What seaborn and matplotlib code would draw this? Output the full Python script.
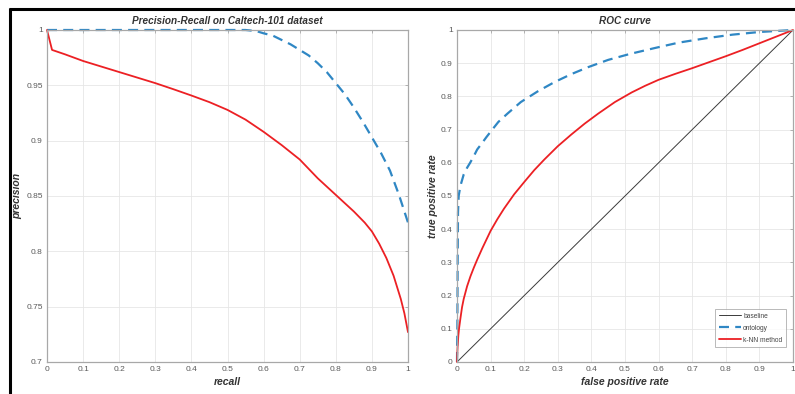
import numpy as np
import pandas as pd
import matplotlib
matplotlib.use("Agg")
import matplotlib.pyplot as plt
from matplotlib.lines import Line2D
import seaborn as sns

# ---- data ----
pr_recall_ont = [0.0, 0.1, 0.2, 0.3, 0.4, 0.5, 0.55, 0.58, 0.6, 0.625, 0.65, 0.675, 0.7,
                 0.725, 0.75, 0.775, 0.8, 0.825, 0.85, 0.875, 0.9, 0.925, 0.95, 0.975, 1.0]
pr_prec_ont = [1.0, 1.0, 1.0, 1.0, 1.0, 1.0, 1.0, 0.999, 0.997, 0.995, 0.991, 0.987, 0.982,
               0.977, 0.970, 0.962, 0.952, 0.942, 0.930, 0.917, 0.903, 0.889, 0.873, 0.851, 0.826]

pr_recall_knn = [0.0, 0.014, 0.05, 0.1, 0.15, 0.2, 0.25, 0.3, 0.35, 0.4, 0.45, 0.5, 0.55,
                 0.6, 0.65, 0.7, 0.75, 0.8, 0.85, 0.88, 0.9, 0.92, 0.94, 0.96, 0.98, 0.99, 1.0]
pr_prec_knn = [1.0, 0.982, 0.978, 0.972, 0.967, 0.962, 0.957, 0.952, 0.9465, 0.9408, 0.9348,
               0.9278, 0.919, 0.908, 0.896, 0.883, 0.866, 0.851, 0.836, 0.826, 0.818, 0.807,
               0.794, 0.778, 0.757, 0.744, 0.727]

roc_fpr_base = [0.0, 1.0]
roc_tpr_base = [0.0, 1.0]

roc_fpr_ont = [0.0, 0.001, 0.002, 0.003, 0.005, 0.01, 0.02, 0.03, 0.039, 0.05, 0.06, 0.075,
               0.088, 0.105, 0.123, 0.15, 0.19, 0.24, 0.29, 0.34, 0.39, 0.45, 0.515, 0.59,
               0.66, 0.74, 0.82, 0.9, 1.0]
roc_tpr_ont = [0.0, 0.1, 0.3, 0.45, 0.5, 0.53, 0.565, 0.585, 0.6, 0.62, 0.64, 0.66,
               0.678, 0.70, 0.723, 0.748, 0.783, 0.815, 0.843, 0.867, 0.888, 0.91, 0.928, 0.946,
               0.962, 0.975, 0.986, 0.994, 1.0]

roc_fpr_knn = [0.0, 0.001, 0.002, 0.004, 0.006, 0.01, 0.015, 0.02, 0.03, 0.04, 0.05, 0.06,
               0.075, 0.1, 0.12, 0.14, 0.17, 0.2, 0.23, 0.26, 0.3, 0.34, 0.38, 0.42, 0.47,
               0.52, 0.56, 0.6, 0.65, 0.7, 0.75, 0.8, 0.85, 0.9, 0.95, 1.0]
roc_tpr_knn = [0.0, 0.03, 0.05, 0.08, 0.1, 0.13, 0.165, 0.19, 0.228, 0.258, 0.284, 0.308,
               0.342, 0.395, 0.43, 0.462, 0.505, 0.542, 0.578, 0.61, 0.65, 0.685, 0.718, 0.748,
               0.783, 0.812, 0.832, 0.85, 0.868, 0.885, 0.903, 0.921, 0.94, 0.96, 0.98, 1.0]

pr_xticks = [0, 0.1, 0.2, 0.3, 0.4, 0.5, 0.6, 0.7, 0.8, 0.9, 1]
pr_xticklabels = ["0", "0.1", "0.2", "0.3", "0.4", "0.5", "0.6", "0.7", "0.8", "0.9", "1"]
pr_yticks = [0.7, 0.75, 0.8, 0.85, 0.9, 0.95, 1.0]
pr_yticklabels = ["0.7", "0.75", "0.8", "0.85", "0.9", "0.95", "1"]
roc_ticks = [0, 0.1, 0.2, 0.3, 0.4, 0.5, 0.6, 0.7, 0.8, 0.9, 1]
roc_ticklabels = ["0", "0.1", "0.2", "0.3", "0.4", "0.5", "0.6", "0.7", "0.8", "0.9", "1"]

# ---- styling ----
sns.set_style("white")
plt.rcParams['font.family'] = ['Liberation Sans', 'DejaVu Sans']

BLUE = "#2f87c4"
RED = "#ec2024"
BASE = "#3a3a3a"
SPINE = "#a8a8a8"
TICKC = "#5a5a5a"
LABELC = "#333333"

fig = plt.figure(figsize=(7.95, 3.94), dpi=100)
ax1 = fig.add_axes([47/795, (394-362)/394, 361/795, 332/394])
ax2 = fig.add_axes([457/795, (394-362)/394, 336/795, 332/394])

dash = (4.5, 2.8)

# PR curves
sns.lineplot(x=pr_recall_ont, y=pr_prec_ont, ax=ax1, color=BLUE, lw=1.6,
             sort=False, estimator=None)
ax1.lines[-1].set_dashes(dash)
ax1.lines[-1].set_clip_on(False)
sns.lineplot(x=pr_recall_knn, y=pr_prec_knn, ax=ax1, color=RED, lw=1.3,
             sort=False, estimator=None)
ax1.lines[-1].set_clip_on(False)

# ROC curves
sns.lineplot(x=roc_fpr_base, y=roc_tpr_base, ax=ax2, color=BASE, lw=0.7,
             sort=False, estimator=None, label="baseline")
sns.lineplot(x=roc_fpr_ont, y=roc_tpr_ont, ax=ax2, color=BLUE, lw=1.6,
             sort=False, estimator=None, label="ontology")
ax2.lines[-1].set_dashes(dash)
ax2.lines[-1].set_clip_on(False)
sns.lineplot(x=roc_fpr_knn, y=roc_tpr_knn, ax=ax2, color=RED, lw=1.3,
             sort=False, estimator=None, label="k-NN method")
ax2.lines[-1].set_clip_on(False)

for ax in (ax1, ax2):
    ax.grid(True, color="#e6e6e6", lw=0.6)
    ax.set_axisbelow(True)
    for s in ax.spines.values():
        s.set_color(SPINE)
        s.set_linewidth(0.9)
    ax.tick_params(direction="in", length=2.5, width=0.6, color=SPINE,
                   labelsize=6, labelcolor=TICKC, top=True, right=True,
                   pad=3)

ax1.set_xlim(0, 1)
ax1.set_ylim(0.7, 1)
ax1.set_xticks(pr_xticks)
ax1.set_xticklabels(pr_xticklabels)
ax1.set_yticks(pr_yticks)
ax1.set_yticklabels(pr_yticklabels)
ax1.set_title("Precision-Recall on Caltech-101 dataset", fontsize=7.2,
              fontweight="bold", fontstyle="italic", color=LABELC, pad=4)
ax1.set_xlabel("recall", fontsize=7.5, fontweight="bold", fontstyle="italic",
               color=LABELC, labelpad=3)
ax1.set_ylabel("precision", fontsize=7.5, fontweight="bold", fontstyle="italic",
               color=LABELC)
ax1.yaxis.set_label_coords(-0.068, 0.5)

ax2.set_xlim(0, 1)
ax2.set_ylim(0, 1)
ax2.set_xticks(roc_ticks)
ax2.set_xticklabels(roc_ticklabels)
ax2.set_yticks(roc_ticks)
ax2.set_yticklabels(roc_ticklabels)
ax2.set_title("ROC curve", fontsize=7.2, fontweight="bold", fontstyle="italic",
              color=LABELC, pad=4)
ax2.set_xlabel("false positive rate", fontsize=7.5, fontweight="bold",
               fontstyle="italic", color=LABELC, labelpad=3)
ax2.set_ylabel("true positive rate", fontsize=7.5, fontweight="bold",
               fontstyle="italic", color=LABELC)
ax2.yaxis.set_label_coords(-0.058, 0.5)

leg = ax2.legend(loc="lower right", fontsize=4.8, frameon=True, fancybox=False,
                 edgecolor="#9a9a9a", borderpad=0.5, labelspacing=0.75,
                 handlelength=3.4, handletextpad=0.3,
                 bbox_to_anchor=(0.988, 0.035))
leg.get_frame().set_linewidth(0.6)
for t in leg.get_texts():
    t.set_color("#444444")

# screenshot frame (black border top and left)
fig.add_artist(Line2D([10/795, 10/795], [0, 1 - 8/394], transform=fig.transFigure,
                      color="black", lw=2.2, solid_capstyle="butt"))
fig.add_artist(Line2D([9/795, 1], [1 - 9/394, 1 - 9/394], transform=fig.transFigure,
                      color="black", lw=2.2, solid_capstyle="butt"))

fig.savefig("out.png", dpi=100)
